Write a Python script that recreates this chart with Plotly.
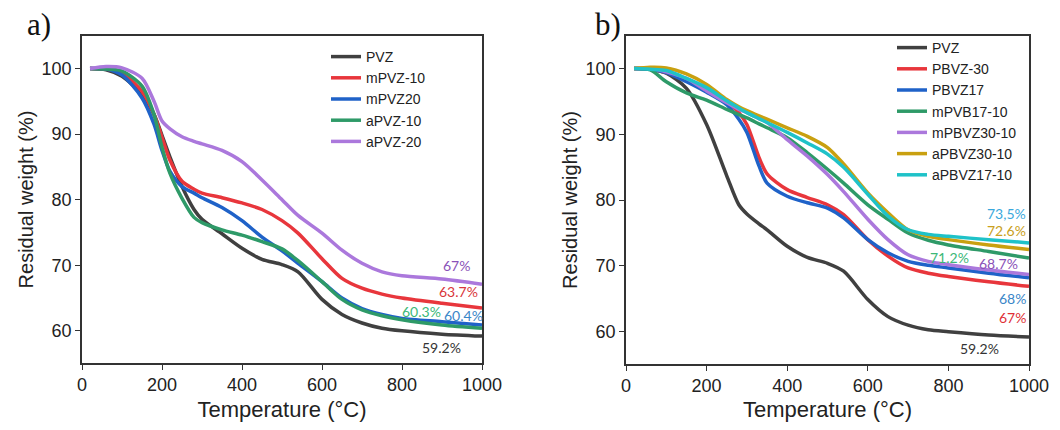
import plotly.graph_objects as go

# ---------------- Panel a data ----------------
temp_a = [20, 60, 100, 150, 180, 200, 220, 250, 280, 300, 350, 400, 450, 500, 540, 600, 650, 700, 750, 800, 900, 1000]
a_PVZ = [100, 99.8, 98.8, 96.0, 93.0, 89.8, 86.5, 82.0, 78.5, 77.0, 74.8, 72.6, 70.9, 70.1, 69.0, 64.8, 62.5, 61.2, 60.4, 60.0, 59.5, 59.2]
a_mPVZ10 = [100, 99.9, 99.3, 96.5, 93.0, 89.5, 86.0, 82.8, 81.6, 81.0, 80.3, 79.5, 78.5, 76.8, 74.9, 71.0, 68.0, 66.5, 65.6, 65.0, 64.2, 63.5]
a_mPVZ20 = [100, 99.9, 99.0, 95.5, 91.5, 87.5, 84.3, 82.0, 81.0, 80.3, 78.8, 76.8, 74.3, 72.2, 70.3, 67.5, 65.0, 63.4, 62.5, 61.9, 61.4, 60.9]
a_aPVZ10 = [100, 99.9, 99.6, 97.3, 93.0, 88.0, 84.0, 80.2, 77.3, 76.5, 75.4, 74.6, 73.6, 72.5, 70.7, 67.5, 64.8, 63.2, 62.3, 61.7, 60.9, 60.4]
a_aPVZ20 = [100, 100.3, 100.1, 98.5, 95.0, 92.0, 90.8, 89.6, 88.9, 88.5, 87.5, 85.8, 83.0, 80.0, 77.6, 74.9, 72.3, 70.3, 69.0, 68.4, 67.9, 67.1]
names_a = ["PVZ", "mPVZ-10", "mPVZ20", "aPVZ-10", "aPVZ-20"]
colors_a = ["#404040", "#e8363c", "#1f62c8", "#2e9a68", "#ab78dc"]

labels_a = ["67%", "63.7%", "60.3%", "60.4%", "59.2%"]
label_x_a = [936, 940, 849, 953, 898]
label_y_a = [70.0, 66.0, 62.9, 62.3, 57.5]
label_colors_a = ["#8a52b8", "#d9363a", "#3cb878", "#3a86c8", "#333333"]

# ---------------- Panel b data ----------------
temp_b = [20, 60, 100, 150, 200, 250, 280, 300, 330, 350, 400, 450, 500, 540, 600, 650, 700, 750, 800, 900, 1000]
b_PVZ = [100, 99.9, 99.3, 97.0, 91.5, 83.7, 79.3, 77.9, 76.4, 75.5, 73.0, 71.3, 70.4, 69.2, 64.9, 62.3, 61.0, 60.3, 60.0, 59.5, 59.2]
b_PBVZ30 = [100, 99.9, 99.4, 98.4, 97.0, 95.0, 93.3, 91.5, 86.5, 84.0, 81.6, 80.4, 79.3, 77.8, 74.0, 71.5, 69.7, 68.9, 68.4, 67.6, 66.9]
b_PBVZ17 = [100, 99.9, 99.4, 98.0, 96.4, 94.5, 92.3, 90.3, 85.2, 82.6, 80.6, 79.6, 78.8, 77.3, 74.0, 72.0, 70.7, 70.1, 69.7, 68.9, 68.2]
b_mPVB17 = [100, 99.8, 98.0, 96.3, 95.2, 93.8, 93.0, 92.5, 91.6, 91.0, 89.5, 87.2, 84.7, 82.6, 79.3, 77.1, 75.0, 73.9, 73.2, 72.2, 71.2]
b_mPBVZ30 = [100, 100.0, 99.5, 98.5, 96.6, 94.8, 93.8, 93.3, 92.4, 91.8, 89.2, 86.7, 83.9, 81.3, 77.1, 74.0, 71.7, 70.7, 70.2, 69.4, 68.7]
b_aPBVZ30 = [100, 100.2, 100.1, 99.2, 97.6, 95.3, 94.2, 93.6, 92.8, 92.3, 91.0, 89.7, 88.0, 85.5, 81.1, 78.1, 75.5, 74.5, 74.0, 73.2, 72.5]
b_aPBVZ17 = [100, 99.9, 99.7, 98.5, 97.1, 95.1, 94.0, 93.3, 92.4, 91.8, 90.3, 88.7, 87.0, 85.0, 80.9, 77.6, 75.5, 74.8, 74.5, 74.0, 73.5]
names_b = ["PVZ", "PBVZ-30", "PBVZ17", "mPVB17-10", "mPBVZ30-10", "aPBVZ30-10", "aPBVZ17-10"]
colors_b = ["#404040", "#e8363c", "#1f62c8", "#2e9a68", "#ab78dc", "#c9a010", "#1fc2c8"]

labels_b = ["73,5%", "72.6%", "71.2%", "68.7%", "68%", "67%", "59.2%"]
label_x_b = [945, 945, 802, 924, 959, 959, 878]
label_y_b = [77.9, 75.4, 71.3, 70.3, 65.0, 62.2, 57.4]
label_colors_b = ["#3aa8dc", "#c9a020", "#3cb878", "#8a52b8", "#3a86c8", "#e03036", "#333333"]

tick_vals_x = [0, 200, 400, 600, 800, 1000]
tick_vals_y = [60, 70, 80, 90, 100]

# page body has an 8px margin; figure sized so it fits the 1060x430 window
W, H, OFF = 1044, 414, 8


def px(xs):
    return (xs - OFF) / W


def py(ys):
    return 1 - (ys - OFF) / H


fig = go.Figure()

series_a = [a_PVZ, a_mPVZ10, a_mPVZ20, a_aPVZ10, a_aPVZ20]
for name, ys, col in zip(names_a, series_a, colors_a):
    fig.add_trace(go.Scatter(x=temp_a, y=ys, name=name, mode="lines",
                             line=dict(color=col, width=3.5, shape="spline", smoothing=0.8),
                             xaxis="x", yaxis="y", legend="legend"))

series_b = [b_PVZ, b_PBVZ30, b_PBVZ17, b_mPVB17, b_mPBVZ30, b_aPBVZ30, b_aPBVZ17]
for name, ys, col in zip(names_b, series_b, colors_b):
    fig.add_trace(go.Scatter(x=temp_b, y=ys, name=name, mode="lines",
                             line=dict(color=col, width=3.5, shape="spline", smoothing=0.8),
                             xaxis="x2", yaxis="y2", legend="legend2"))

axis_font = dict(family="Liberation Sans, Arial, sans-serif", size=18, color="#222222")
title_font_x = dict(family="Liberation Sans, Arial, sans-serif", size=22, color="#222222")
title_font_y = dict(family="Liberation Sans, Arial, sans-serif", size=20, color="#222222")


def xaxis_cfg(domain, anchor):
    return dict(domain=domain, anchor=anchor, range=[0, 1000], tickvals=tick_vals_x,
                automargin=False,
                showline=True, mirror=True, linecolor="#333333", linewidth=1.5,
                ticks="outside", ticklen=5, tickcolor="#333333", tickwidth=1.2,
                showgrid=False, zeroline=False, tickfont=axis_font,
                title=dict(text="Temperature (°C)", font=title_font_x, standoff=20))


def yaxis_cfg(domain, anchor):
    return dict(domain=domain, anchor=anchor, range=[55.1, 104.95], tickvals=tick_vals_y,
                automargin=False,
                showline=True, mirror=True, linecolor="#333333", linewidth=1.5,
                ticks="outside", ticklen=5, tickcolor="#333333", tickwidth=1.2,
                showgrid=False, zeroline=False, tickfont=axis_font,
                title=dict(text="Residual weight (%)", font=title_font_y, standoff=3))


annotations = []
for txt, x, y, c in zip(labels_a, label_x_a, label_y_a, label_colors_a):
    annotations.append(dict(text=txt, x=x, y=y, xref="x", yref="y", showarrow=False,
                            font=dict(family="Lato, Open Sans, sans-serif", size=14, color=c)))
for txt, x, y, c in zip(labels_b, label_x_b, label_y_b, label_colors_b):
    annotations.append(dict(text=txt, x=x, y=y, xref="x2", yref="y2", showarrow=False,
                            font=dict(family="Lato, Open Sans, sans-serif", size=14, color=c)))
annotations.append(dict(text="a)", x=px(25), y=py(25), xref="paper", yref="paper",
                        xanchor="left", yanchor="middle", showarrow=False,
                        font=dict(family="Liberation Serif, Times New Roman, serif", size=31, color="#111111")))
annotations.append(dict(text="b)", x=px(593), y=py(25), xref="paper", yref="paper",
                        xanchor="left", yanchor="middle", showarrow=False,
                        font=dict(family="Liberation Serif, Times New Roman, serif", size=31, color="#111111")))

legend_font = dict(family="Liberation Sans, Arial, sans-serif", size=14, color="#222222")

fig.update_layout(
    width=W, height=H,
    margin=dict(l=0, r=0, t=0, b=0),
    paper_bgcolor="white", plot_bgcolor="white",
    xaxis=xaxis_cfg([px(82), px(482)], "y"),
    yaxis=yaxis_cfg([py(363), py(36)], "x"),
    xaxis2=xaxis_cfg([px(626), px(1029)], "y2"),
    yaxis2=yaxis_cfg([py(364), py(36)], "x2"),
    legend=dict(x=px(326), y=py(41), xanchor="left", yanchor="top",
                bgcolor="rgba(0,0,0,0)", font=legend_font, tracegroupgap=0, itemwidth=30),
    legend2=dict(x=px(892), y=py(32), xanchor="left", yanchor="top",
                 bgcolor="rgba(0,0,0,0)", font=legend_font, tracegroupgap=0, itemwidth=30),
    annotations=annotations,
    showlegend=True,
)

fig.write_html("out.html")
